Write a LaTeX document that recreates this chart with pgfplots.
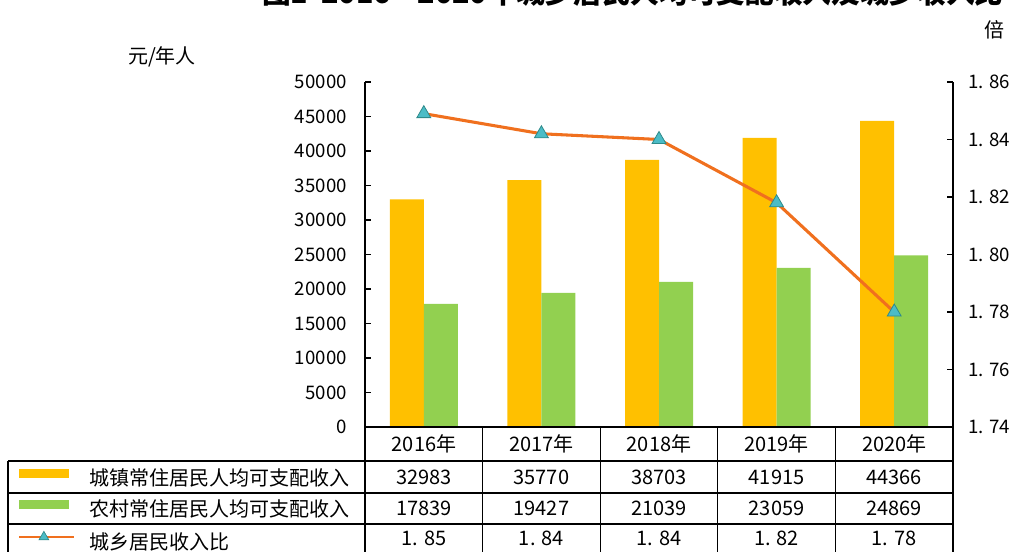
\documentclass[border=0pt]{standalone}
\usepackage{fontspec}
\setmainfont{Noto Sans CJK SC}
\usepackage{pgfplots}
\pgfplotsset{compat=1.18}
\definecolor{cOr}{HTML}{FFC000}
\definecolor{cGr}{HTML}{92D050}
\definecolor{cLine}{HTML}{F0701E}
\definecolor{cTri}{HTML}{4BBCC6}
\definecolor{cTriB}{HTML}{2E8A8A}
\begin{document}
\begin{tikzpicture}[x=0.75pt,y=-0.75pt]
% title (cut off at top, as in reference)
\node[anchor=base west,font=\fontsize{21.5}{21.5}\selectfont\bfseries,inner sep=0pt] at (262,3.5) {图1\ \ 2016—2020年城乡居民人均可支配收入及城乡收入比};
\node[font=\fontsize{15}{15}\selectfont,inner sep=0pt] at (162,57) {元/年人};
\node[font=\fontsize{15}{15}\selectfont,inner sep=0pt] at (994,30) {倍};

\begin{axis}[
  at={(273.75pt,-320.25pt)}, anchor=south west,
  scale only axis, width=441pt, height=258.75pt,
  xmin=-0.5, xmax=4.5, ymin=0, ymax=50000,
  axis x line=none, axis y line*=left,
  axis line style={line width=0.9pt,-},
  ytick={0,5000,...,50000},
  tick align=inside, major tick length=4.5pt,
  tick style={line width=0.9pt,black},
  scaled y ticks=false,
  /pgf/number format/.cd, 1000 sep={}, assume math mode=true, /pgfplots/.cd,
  yticklabel style={font=\fontsize{14}{14}\selectfont,inner sep=0pt,xshift=-13.5pt},
  ybar=0pt, bar width=25.5pt,
  legend style={at={(axis description cs:-0.5901,-0.1206)}, anchor=north west,
    draw=none, fill=none, inner sep=0pt, outer sep=0pt,
    row sep=7pt, column sep=10.5pt,
    font=\fontsize{15}{15}\selectfont,
    nodes={inner sep=0pt, text height=12pt, text depth=4pt}},
  legend cell align=left,
]
\addplot[fill=cOr, draw=none, bar shift=-12.75pt,
  legend image code/.code={\fill[cOr] (0pt,1.6pt) rectangle (37.5pt,8.4pt);}]
  coordinates {(0,32983) (1,35770) (2,38703) (3,41915) (4,44366)};
\addlegendentry{城镇常住居民人均可支配收入}
\addplot[fill=cGr, draw=none, bar shift=12.75pt,
  legend image code/.code={\fill[cGr] (0pt,1.6pt) rectangle (37.5pt,8.4pt);}]
  coordinates {(0,17839) (1,19427) (2,21039) (3,23059) (4,24869)};
\addlegendentry{农村常住居民人均可支配收入}
\addlegendimage{legend image code/.code={
  \draw[cLine,line width=1.8pt] (0pt,5.7pt) -- (41pt,5.7pt);
  \draw[cTriB,fill=cTri,line width=0.5pt] (18.5pt,5.7pt) +(90:4.2pt) -- +(210:4.2pt) -- +(330:4.2pt) -- cycle;}}
\addlegendentry{城乡居民收入比}
\end{axis}

\begin{axis}[
  at={(273.75pt,-320.25pt)}, anchor=south west,
  scale only axis, width=441pt, height=258.75pt,
  xmin=-0.5, xmax=4.5, ymin=1.74, ymax=1.86,
  axis x line=none, axis y line*=right,
  axis line style={line width=0.9pt,-},
  ytick={1.74,1.76,1.78,1.80,1.82,1.84,1.86},
  yticklabels={1. 74,1. 76,1. 78,1. 80,1. 82,1. 84,1. 86},
  tick align=inside, major tick length=4.5pt,
  tick style={line width=0.9pt,black},
  yticklabel style={font=\fontsize{14}{14}\selectfont,inner sep=0pt,xshift=11.25pt},
]
\addplot[cLine, line width=2.3pt, mark=triangle*, mark size=6pt,
  mark options={fill=cTri, draw=cTriB, line width=0.6pt, solid}]
  coordinates {(0,1.849) (1,1.842) (2,1.840) (3,1.818) (4,1.780)};
\end{axis}

% data table
\begin{scope}[line width=1pt]
\draw (365,427) -- (953,427);
\draw (8,461) -- (953,461);
\draw (8,493) -- (953,493);
\draw (8,524) -- (953,524);
\draw (8,461) -- (8,560);
\foreach \xx in {365,482.6,600.2,717.8,835.4,953} {\draw (\xx,427) -- (\xx,560);}
\end{scope}
\begin{scope}[every node/.style={font=\fontsize{15}{15}\selectfont,inner sep=0pt}]
\foreach \xx/\yr/\a/\b/\c in {424/2016/32983/17839/1. 85, 541.4/2017/35770/19427/1. 84, 659/2018/38703/21039/1. 84, 776.6/2019/41915/23059/1. 82, 894.2/2020/44366/24869/1. 78} {
  \node at (\xx,444) {\yr 年};
  \node at (\xx,477) {\a};
  \node at (\xx,508) {\b};
  \node at (\xx,538) {\c};
}
\end{scope}
\pgfresetboundingbox
\path[use as bounding box] (0,0) rectangle (1013,551);
\end{tikzpicture}
\end{document}
